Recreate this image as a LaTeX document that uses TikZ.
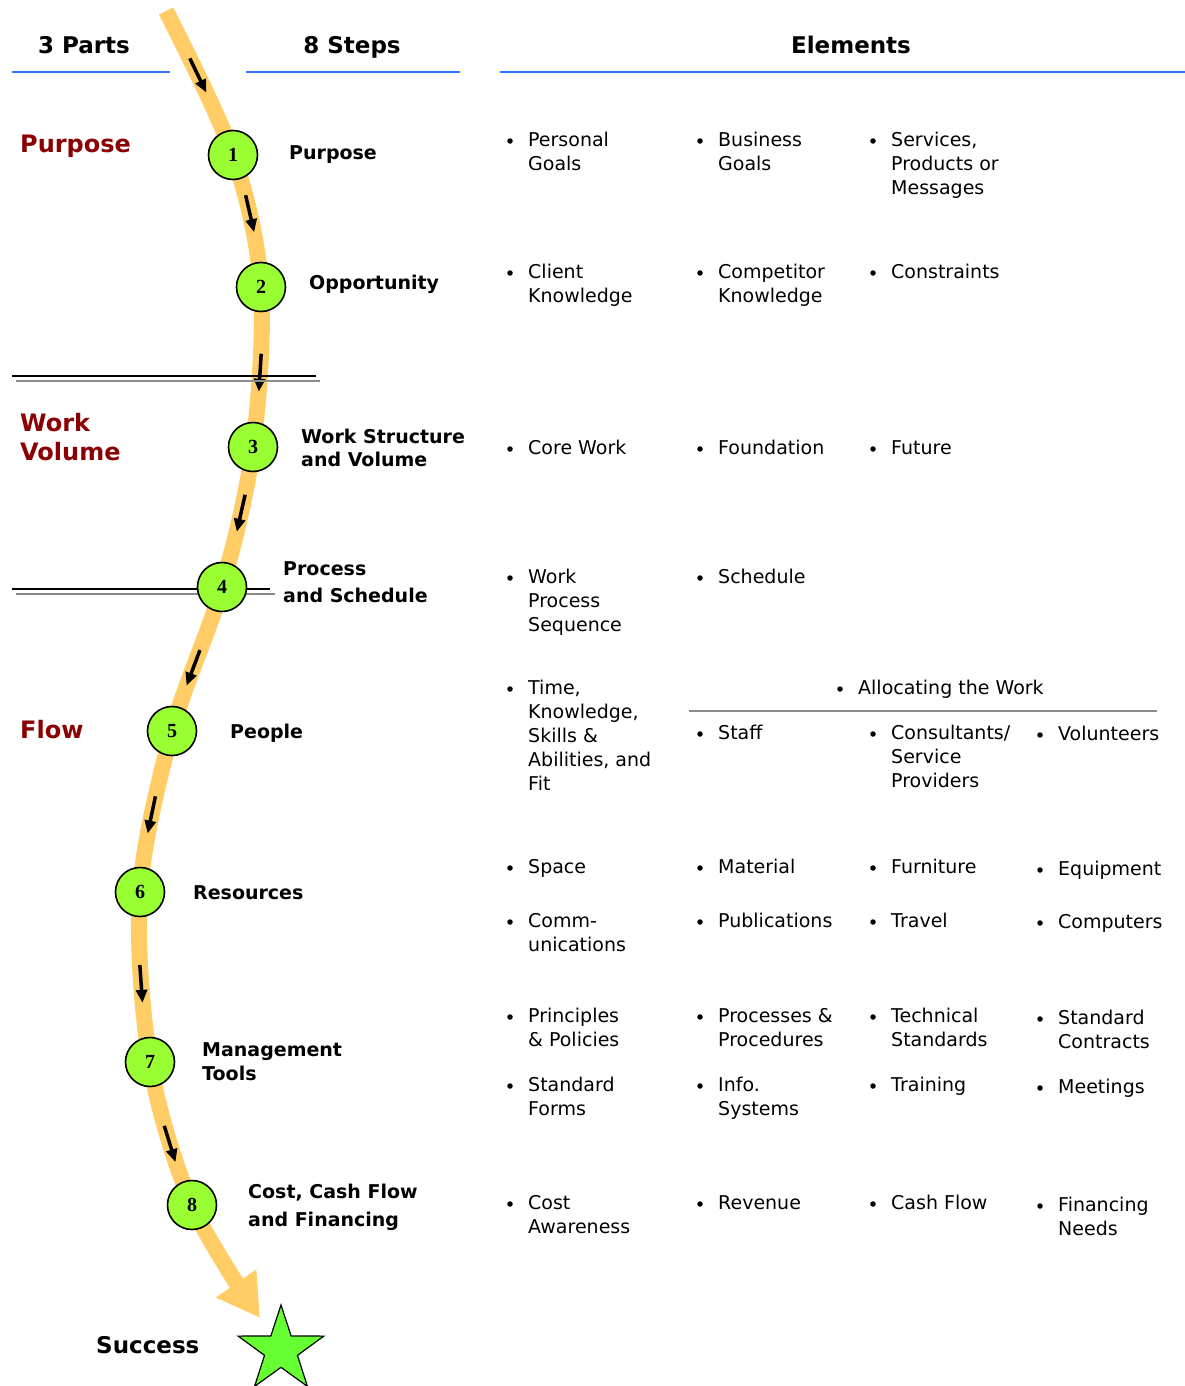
\documentclass[tikz,border=0pt]{standalone}
\usepackage{fontspec}
\setmainfont{DejaVu Sans}
\newfontfamily\numfont{Liberation Serif}
\usepackage{tikz}
\usetikzlibrary{shapes.geometric,arrows.meta,calc,decorations.markings}
\definecolor{pathorange}{RGB}{255,204,102}
\definecolor{stepgreen}{RGB}{153,255,51}
\definecolor{stargreen}{RGB}{102,255,51}
\definecolor{partred}{RGB}{139,0,0}
\definecolor{headblue}{RGB}{51,119,255}
% bullet + text of one element
\newcommand{\elem}[4]{%
  \node[elbullet] (#1b) at (#2,#3) {};
  \node[eltext] (#1) at ($(#1b)+(18,-12)$) {\strut #4};
}
\begin{document}
\begin{tikzpicture}[x=1pt,y=-1pt,
    head/.style={anchor=base, inner sep=0pt, font=\bfseries\fontsize{23}{27}\selectfont},
    headrule/.style={headblue, line width=2pt},
    part/.style={anchor=north west, inner sep=0pt, align=left, text=partred, font=\bfseries\fontsize{24}{29}\selectfont},
    steplabel/.style={anchor=north west, inner sep=0pt, align=left, font=\bfseries\fontsize{19}{25}\selectfont},
    stepdot/.style={circle, draw=black, line width=1.6pt, fill=stepgreen, minimum size=49pt, inner sep=0pt, font=\numfont\bfseries\fontsize{20}{20}\selectfont},
    goalstar/.style={star, star points=5, star point ratio=2.6, minimum size=90pt, inner sep=0pt, draw=black, line width=1.2pt, fill=stargreen},
    elbullet/.style={circle, fill=black, inner sep=0pt, minimum size=5.5pt},
    eltext/.style={anchor=north west, inner sep=0pt, align=left, font=\fontsize{19}{24}\selectfont},
    divblack/.style={black, line width=1.8pt},
    divgray/.style={black!45, line width=2.2pt},
    allocrule/.style={black!45, line width=1.5pt},
    flowtick/.style={black, line width=3.5pt, -{Triangle[width=11pt,length=13pt]}},
    flowpath/.style={pathorange, line width=16pt, -{Triangle[width=46pt,length=42pt]},
      decoration={markings,
        mark=at position 72pt with {\draw[flowtick] (-19,0) -- (19,0);},
        mark=at position 220pt with {\draw[flowtick] (-19,0) -- (19,0);},
        mark=at position 380pt with {\draw[flowtick] (-19,0) -- (19,0);},
        mark=at position 522pt with {\draw[flowtick] (-19,0) -- (19,0);},
        mark=at position 684pt with {\draw[flowtick] (-19,0) -- (19,0);},
        mark=at position 837pt with {\draw[flowtick] (-19,0) -- (19,0);},
        mark=at position 1007pt with {\draw[flowtick] (-19,0) -- (19,0);},
        mark=at position 1170pt with {\draw[flowtick] (-19,0) -- (19,0);}},
      postaction={decorate}}
  ]
    \useasboundingbox (0,0) rectangle (1185,1386);

    % Headers
    \node[head] (hparts) at (84,54) {3 Parts};
    \node[head] (hsteps) at (352,54) {8 Steps};
    \node[head] (helems) at (851,54) {Elements};
    \draw[headrule] (12,72) -- (170,72);
    \draw[headrule] (246,72) -- (460,72);
    \draw[headrule] (500,72) -- (1185,72);

    % Path of the steps
    \coordinate (top) at (166,11);
    \coordinate (c1) at (233,155);
    \coordinate (c2) at (261,287);
    \coordinate (c3) at (253,447);
    \coordinate (c4) at (222,587);
    \coordinate (c5) at (172,731);
    \coordinate (c6) at (140,892);
    \coordinate (c7) at (150,1062);
    \coordinate (c8) at (192,1205);
    \coordinate (tip) at (260,1318);
    \draw[flowpath] plot[smooth, tension=0.55] coordinates {(top) (c1) (c2) (c3) (c4) (c5) (c6) (c7) (c8) (tip)};

    % Part dividers
    \draw[divblack] (12,376) -- (316,376);
    \draw[divgray] (16,381) -- (320,381);
    \draw[divblack] (12,589) -- (270,589);
    \draw[divgray] (16,594) -- (275,594);

    \foreach \n in {1,...,8}
      \node[stepdot] (s\n) at (c\n) {\n};
    \node[goalstar] (goal) at (281,1350) {};

    % Parts
    \node[part] (ppurpose) at (20,132.5) {\strut Purpose};
    \node[part] (pwork) at (20,410.5) {\strut Work\\Volume};
    \node[part] (pflow) at (20,717.5) {\strut Flow};

    % Steps
    \node[steplabel] (lpurpose) at (289,141.5) {\strut Purpose};
    \node[steplabel] (lopport) at (309,271.5) {\strut Opportunity};
    \node[steplabel] (lwork) at (301,425.5) {\strut Work Structure\\[-2pt]and Volume};
    \node[steplabel] (lprocess) at (283,557.5) {\strut Process\\[2pt]and Schedule};
    \node[steplabel] (lpeople) at (230,720.5) {\strut People};
    \node[steplabel] (lresources) at (193,881.5) {\strut Resources};
    \node[steplabel] (lmgmt) at (202,1038.5) {\strut Management\\[-1pt]Tools};
    \node[steplabel] (lcost) at (248,1180.5) {\strut Cost, Cash Flow\\[3pt]and Financing};
    \node[head, anchor=base west] (lsuccess) at (96,1353) {Success};

    % Elements
    \elem{pgoals}{510}{141}{Personal\\Goals}
    \elem{bgoals}{700}{141}{Business\\Goals}
    \elem{services}{873}{141}{Services,\\Products or\\Messages}

    \elem{clientk}{510}{273}{Client\\Knowledge}
    \elem{competk}{700}{273}{Competitor\\Knowledge}
    \elem{constr}{873}{273}{Constraints}

    \elem{core}{510}{449}{Core Work}
    \elem{found}{700}{449}{Foundation}
    \elem{future}{873}{449}{Future}

    \elem{wps}{510}{578}{Work\\Process\\Sequence}
    \elem{sched}{700}{578}{Schedule}

    \elem{tksa}{510}{689}{Time,\\Knowledge,\\Skills \&\\Abilities, and\\Fit}
    \elem{alloc}{840}{689}{Allocating the Work}
    \draw[allocrule] (689,711) -- (1157,711);
    \elem{staff}{700}{734}{Staff}
    \elem{consult}{873}{734}{Consultants/\\Service\\Providers}
    \elem{volunt}{1040}{735}{Volunteers}

    \elem{space}{510}{868}{Space}
    \elem{material}{700}{868}{Material}
    \elem{furniture}{873}{868}{Furniture}
    \elem{equip}{1040}{870}{Equipment}
    \elem{comm}{510}{922}{Comm-\\unications}
    \elem{pubs}{700}{922}{Publications}
    \elem{travel}{873}{922}{Travel}
    \elem{computers}{1040}{923}{Computers}

    \elem{principles}{510}{1017}{Principles\\\& Policies}
    \elem{processes}{700}{1017}{Processes \&\\Procedures}
    \elem{technical}{873}{1017}{Technical\\Standards}
    \elem{contracts}{1040}{1019}{Standard\\Contracts}
    \elem{forms}{510}{1086}{Standard\\Forms}
    \elem{info}{700}{1086}{Info.\\Systems}
    \elem{training}{873}{1086}{Training}
    \elem{meetings}{1040}{1088}{Meetings}

    \elem{costaw}{510}{1204}{Cost\\Awareness}
    \elem{revenue}{700}{1204}{Revenue}
    \elem{cashflow}{873}{1204}{Cash Flow}
    \elem{financing}{1040}{1206}{Financing\\Needs}
\end{tikzpicture}
\end{document}
